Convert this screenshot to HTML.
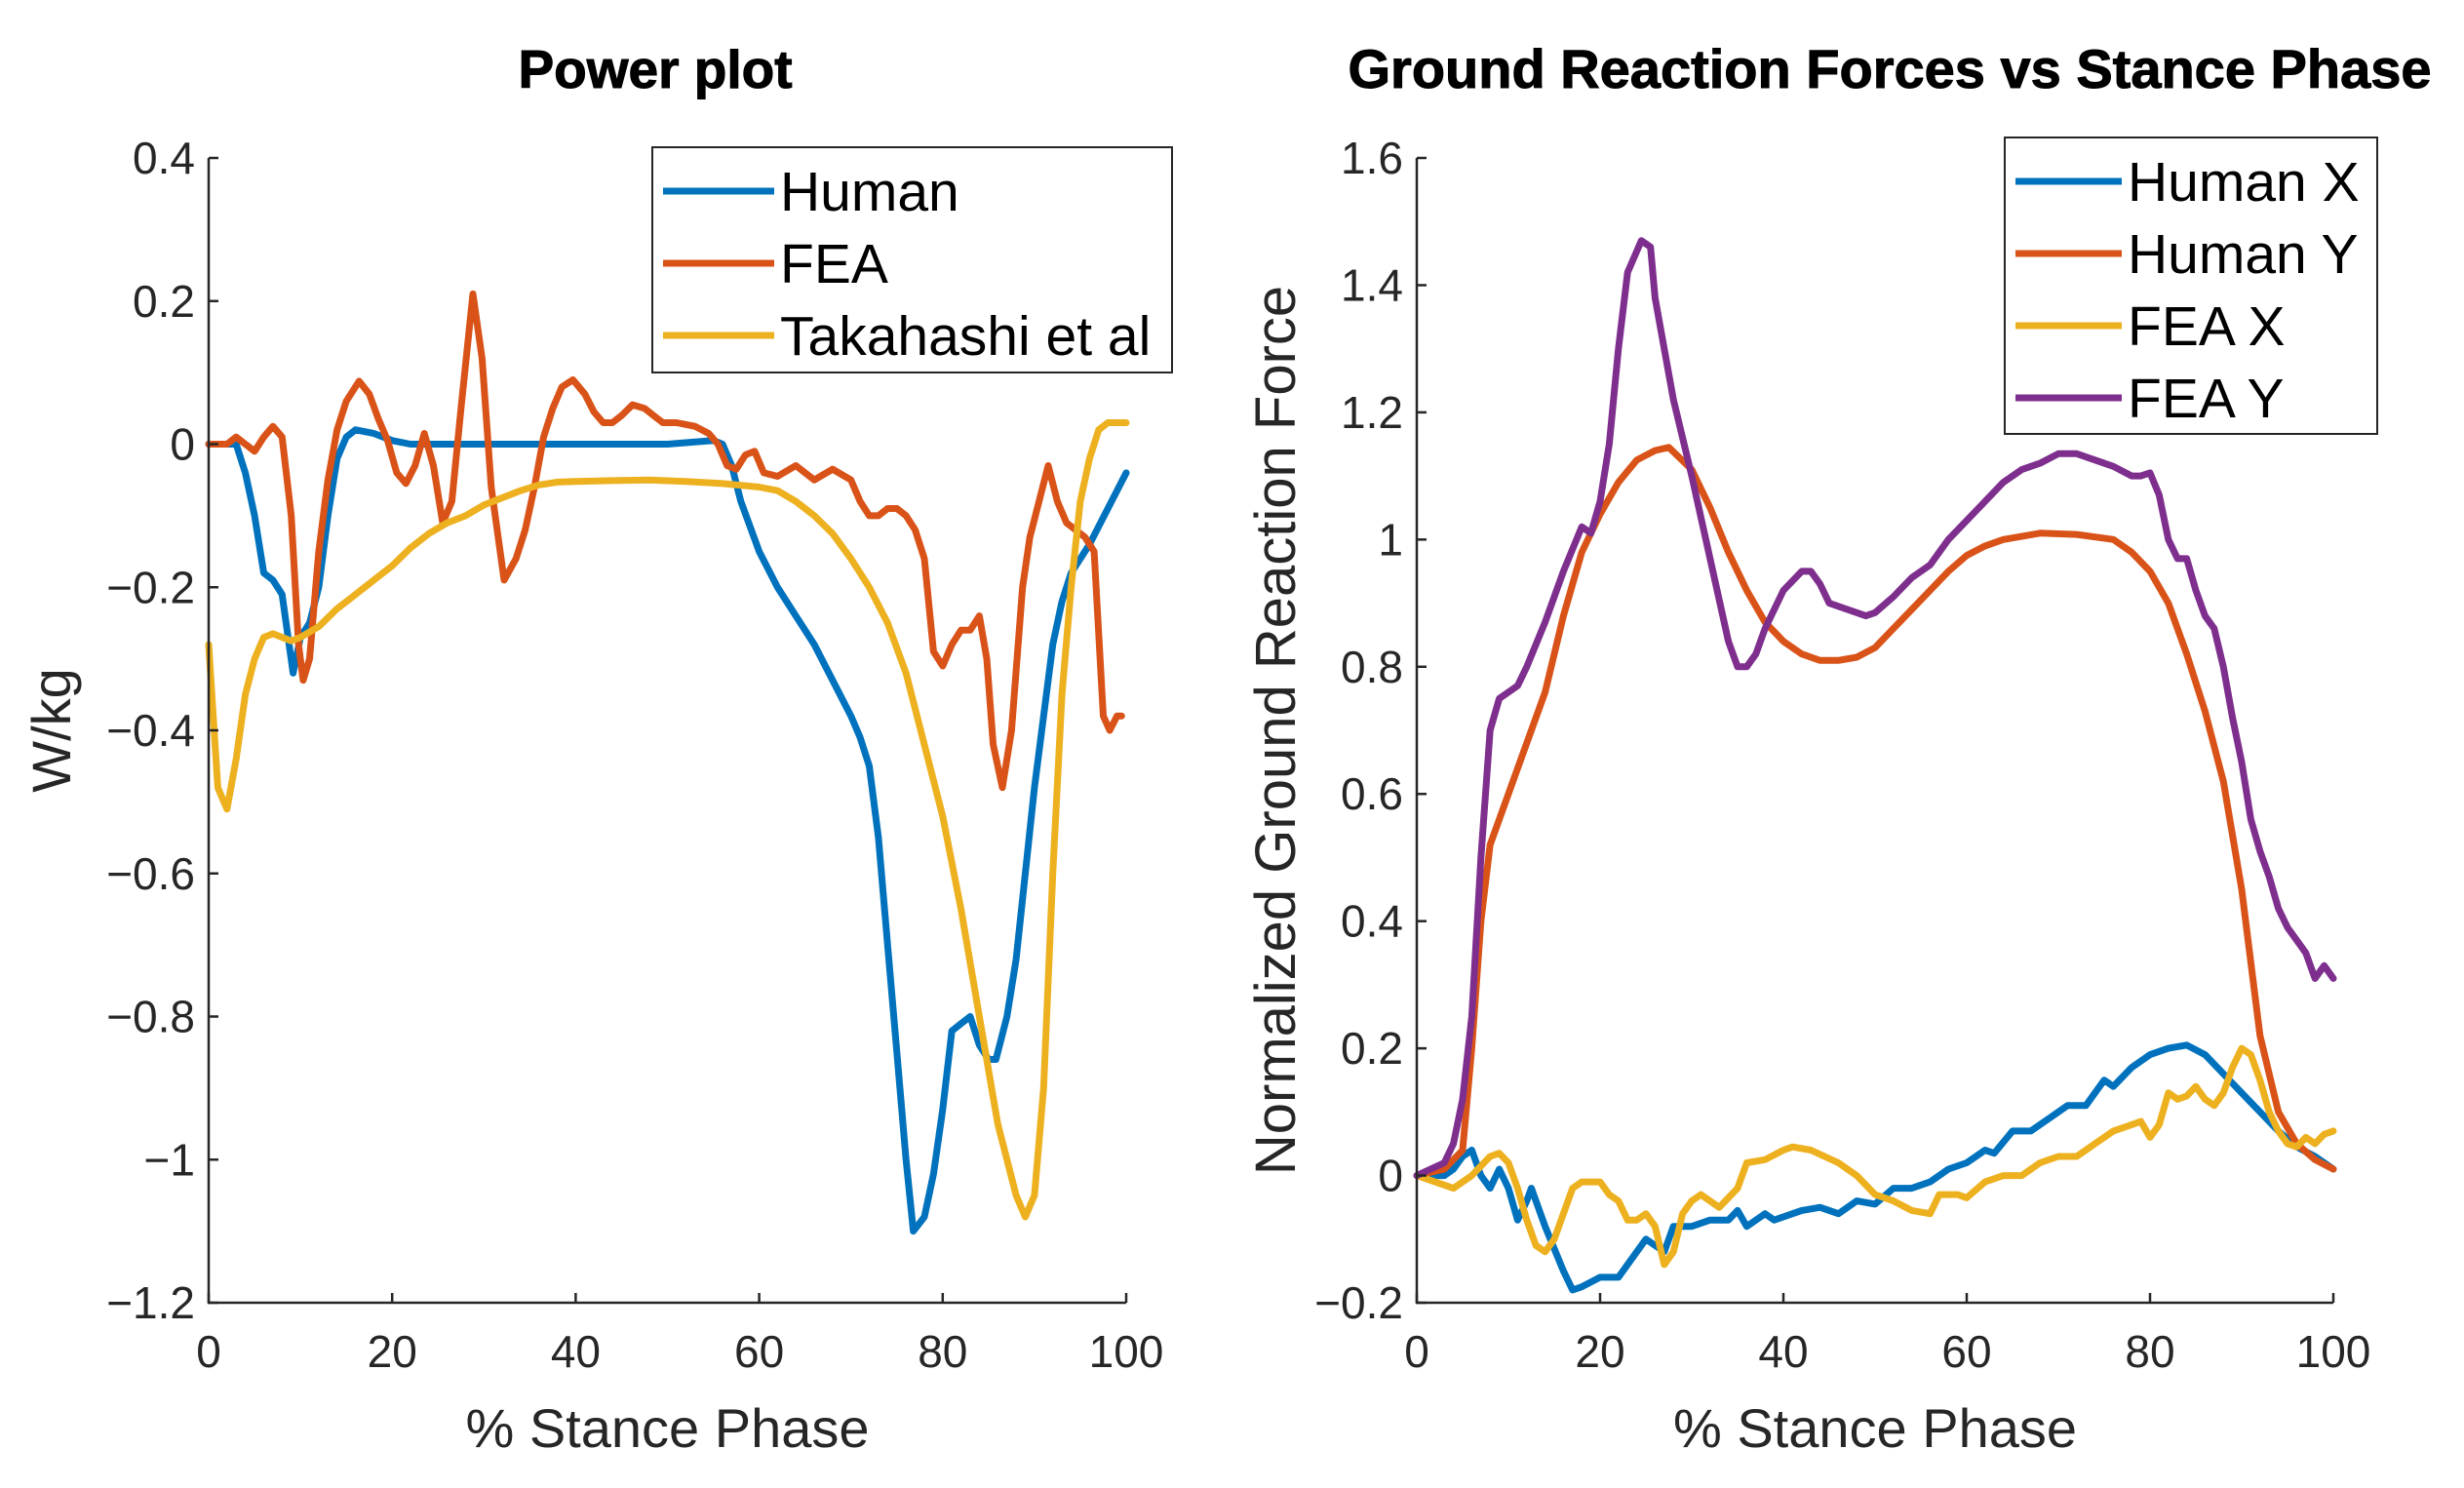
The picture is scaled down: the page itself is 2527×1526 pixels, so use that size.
<!DOCTYPE html>
<html><head><meta charset="utf-8">
<style>
html,body{margin:0;padding:0;background:#fff;}
svg{display:block;font-family:"Liberation Sans",Arial,sans-serif;}
</style></head>
<body>
<svg id="chart" width="2527" height="1526" viewBox="0 0 2527 1526" xmlns="http://www.w3.org/2000/svg">
<rect x="0" y="0" width="2527" height="1526" fill="#fff"/>
<g id="left"></g>
<g id="right"></g>
</svg>
<script>
// ---------- Power plot data ----------
const humanPX = [0,2,3,4,5,6,7,8,9.2,10,11,12,13,14,15,16,18,20,22,30,40,50,55,56,57,58,60,62,64,66,68,70,71,72,73,74,75,76,76.8,78,79,80,81,82,83,84,85,85.8,87,88,89,90,91,92,93,94,96,98,100];
const humanPY = [0,0,0,-0.04,-0.1,-0.18,-0.19,-0.21,-0.32,-0.27,-0.25,-0.2,-0.1,-0.02,0.01,0.02,0.015,0.005,0,0,0,0,0.005,0,-0.03,-0.08,-0.15,-0.2,-0.24,-0.28,-0.33,-0.38,-0.41,-0.45,-0.55,-0.7,-0.85,-1.0,-1.1,-1.08,-1.02,-0.93,-0.82,-0.81,-0.8,-0.84,-0.86,-0.86,-0.8,-0.72,-0.6,-0.48,-0.38,-0.28,-0.22,-0.18,-0.14,-0.09,-0.04];
const feaPX = [0,1,2,3,4,5,6,7,8,9,9.8,10.3,11,12,13,14,15,16.4,17.5,18.5,19.5,20.5,21.5,22.5,23.5,24.5,25.5,26.5,27.5,28.8,29.8,30.8,32.2,33.5,34.5,35.5,36.5,37.5,38.5,39.7,41,42,43,44,45,46.2,47.5,48.5,49.5,51,53,54.5,55.5,56.5,57.5,58.5,59.5,60.5,62,64,66,68,70,71,72,73,74,75,76,77,78,79,80,81,82,83,84,84.8,85.5,86.5,87.5,88.7,89.5,90.5,91.5,92.5,93.5,94.5,95.5,96.5,97.5,98.2,99,99.5,100];
const feaPY = [0,0,0,0.01,0,-0.01,0.01,0.025,0.01,-0.1,-0.28,-0.33,-0.3,-0.15,-0.05,0.02,0.06,0.088,0.07,0.035,0.005,-0.04,-0.055,-0.03,0.015,-0.03,-0.11,-0.08,0.05,0.21,0.12,-0.06,-0.19,-0.16,-0.12,-0.06,0.01,0.05,0.08,0.09,0.07,0.045,0.03,0.03,0.04,0.055,0.05,0.04,0.03,0.03,0.025,0.015,0,-0.03,-0.035,-0.015,-0.01,-0.04,-0.045,-0.03,-0.05,-0.035,-0.05,-0.08,-0.1,-0.1,-0.09,-0.09,-0.1,-0.12,-0.16,-0.29,-0.31,-0.28,-0.26,-0.26,-0.24,-0.3,-0.42,-0.48,-0.4,-0.2,-0.13,-0.08,-0.03,-0.08,-0.11,-0.12,-0.13,-0.15,-0.38,-0.4,-0.38,-0.38];
const takPX = [0,1,2,3,4,5,6,7,8,9,10,12,14,16,18,20,22,24,26,28,30,32,34,36,38,40,44,48,52,56,60,62,64,66,68,70,72,74,76,78,80,82,84,86,88,89,90,91,92,93,94,95,96,97,98,100];
const takPY = [-0.28,-0.48,-0.51,-0.44,-0.35,-0.3,-0.27,-0.265,-0.27,-0.275,-0.27,-0.255,-0.23,-0.21,-0.19,-0.17,-0.145,-0.125,-0.11,-0.1,-0.085,-0.075,-0.065,-0.057,-0.053,-0.052,-0.051,-0.05,-0.052,-0.055,-0.06,-0.065,-0.08,-0.1,-0.125,-0.16,-0.2,-0.25,-0.32,-0.42,-0.52,-0.65,-0.8,-0.95,-1.05,-1.08,-1.05,-0.9,-0.6,-0.35,-0.2,-0.08,-0.02,0.02,0.03,0.03];
const leftYTicks = [0.4,0.2,0,-0.2,-0.4,-0.6,-0.8,-1,-1.2];
const leftYLabels = ["0.4","0.2","0","\u22120.2","\u22120.4","\u22120.6","\u22120.8","\u22121","\u22121.2"];
const xTicks = [0,20,40,60,80,100];
const leftLegend = ["Human","FEA","Takahashi et al"];

// ---------- GRF data ----------
const hxX = [0,2,3,4,5,6,7,8,9,10,11,12,12.5,14,16,17,18,20,22,24,25,26,27,28,30,32,34,35,36,38,39,42,44,46,48,50,52,54,56,58,60,62,63,65,67,69,71,73,75,76,78,80,82,84,86,88,90,92,94,96,98,100];
const hxY = [0,0,0,0.01,0.03,0.04,0,-0.02,0.01,-0.02,-0.07,-0.04,-0.02,-0.08,-0.15,-0.18,-0.175,-0.16,-0.16,-0.12,-0.1,-0.11,-0.12,-0.08,-0.08,-0.07,-0.07,-0.055,-0.08,-0.06,-0.07,-0.055,-0.05,-0.06,-0.04,-0.045,-0.02,-0.02,-0.01,0.01,0.02,0.04,0.035,0.07,0.07,0.09,0.11,0.11,0.15,0.14,0.17,0.19,0.2,0.205,0.19,0.16,0.13,0.1,0.07,0.045,0.03,0.01];
const hyX = [0,3,5,6,7,8,9,10,12,14,16,18,20,22,24,26,27.5,30,32,34,36,38,40,42,44,46,48,50,52,54,56,58,60,62,64,66,68,72,76,78,80,82,84,86,88,90,92,94,96,98,100];
const hyY = [0,0.01,0.04,0.2,0.4,0.52,0.56,0.6,0.68,0.76,0.88,0.98,1.04,1.09,1.125,1.14,1.145,1.11,1.05,0.98,0.92,0.87,0.84,0.82,0.81,0.81,0.815,0.83,0.86,0.89,0.92,0.95,0.975,0.99,1.0,1.005,1.01,1.008,1.0,0.98,0.95,0.9,0.82,0.73,0.62,0.45,0.22,0.1,0.05,0.025,0.01];
const fxX = [0,2,4,6,8,9,10,11,12,13,14,15,16,17,18,20,21,22,23,24,25,26,27,28,29,30,31,33,35,36,38,40,41,43,46,48,50,52,54,56,57,59,60,62,64,66,68,70,72,74,76,78,79,80,81,82,83,84,85,86,87,88,89,90,91,92,93,94,95,96,97,98,99,100];
const fxY = [0,-0.01,-0.02,0,0.03,0.035,0.02,-0.02,-0.07,-0.11,-0.12,-0.1,-0.06,-0.02,-0.01,-0.01,-0.03,-0.04,-0.07,-0.07,-0.06,-0.08,-0.14,-0.12,-0.06,-0.04,-0.03,-0.05,-0.02,0.02,0.025,0.04,0.045,0.04,0.02,0,-0.03,-0.04,-0.055,-0.06,-0.03,-0.03,-0.035,-0.01,0,0,0.02,0.03,0.03,0.05,0.07,0.08,0.085,0.06,0.08,0.13,0.12,0.125,0.14,0.12,0.11,0.13,0.17,0.2,0.19,0.15,0.1,0.07,0.05,0.045,0.06,0.05,0.065,0.07];
const fyX = [0,3,4,5,6,7,8,9,10,11,12,14,16,18,19,20,21,22,23,24.5,25.5,26,27,28,30,32,34,35,36,37,38,40,42,43,44,45,47,49,50,52,54,56,58,60,62,64,66,68,70,72,74,76,78,79,80,81,82,83,84,85,86,87,88,89,90,91,92,93,94,95,96,97,98,99,100];
const fyY = [0,0.02,0.05,0.12,0.25,0.5,0.7,0.75,0.76,0.77,0.8,0.87,0.95,1.02,1.01,1.06,1.15,1.3,1.42,1.47,1.46,1.38,1.3,1.22,1.1,0.97,0.84,0.8,0.8,0.82,0.86,0.92,0.95,0.95,0.93,0.9,0.89,0.88,0.885,0.91,0.94,0.96,1.0,1.03,1.06,1.09,1.11,1.12,1.135,1.135,1.125,1.115,1.1,1.1,1.105,1.07,1.0,0.97,0.97,0.92,0.88,0.86,0.8,0.72,0.65,0.56,0.51,0.47,0.42,0.39,0.37,0.35,0.31,0.33,0.31];
const rightYTicks = [1.6,1.4,1.2,1,0.8,0.6,0.4,0.2,0,-0.2];
const rightYLabels = ["1.6","1.4","1.2","1","0.8","0.6","0.4","0.2","0","\u22120.2"];
const rightLegend = ["Human X","Human Y","FEA X","FEA Y"];

const C = ["#0072BD","#D95319","#EDB120","#7E2F8E"];
const NS = "http://www.w3.org/2000/svg";
function mk(parent, tag, attrs){const e=document.createElementNS(NS,tag);for(const k in attrs)e.setAttribute(k,attrs[k]);parent.appendChild(e);return e;}

function drawPanel(g, cfg){
  const sx = v => cfg.x0 + (v-0)/(100-0)*(cfg.x1-cfg.x0);
  const sy = v => cfg.yB + (v-cfg.ymin)/(cfg.ymax-cfg.ymin)*(cfg.yT-cfg.yB);
  cfg.series.forEach((s,i)=>{
    const d=s.x.map((v,j)=>(j?'L':'M')+sx(v).toFixed(1)+','+sy(s.y[j]).toFixed(1)).join('');
    const p=mk(g,'path',{d:d,fill:'none',stroke:s.c,'stroke-width':7,'stroke-linejoin':'round','stroke-linecap':'round'});
    
    
  });
  const ax = mk(g,'path',{d:`M${cfg.x0},${cfg.yT}V${cfg.yB}H${cfg.x1}`,fill:'none',stroke:'#262626','stroke-width':2.5});
  
  
  cfg.yticks.forEach((t,i)=>{
    const y=sy(t);
    const tk=mk(g,'line',{x1:cfg.x0,x2:cfg.x0+10,y1:y,y2:y,stroke:'#262626','stroke-width':2.5});
    
    
    const tl=mk(g,'text',{x:cfg.x0-14,y:y+16,'text-anchor':'end','font-size':46,fill:'#262626'});
    tl.textContent=cfg.ylabels[i];
    
    
  });
  xTicks.forEach(t=>{
    const x=sx(t);
    const tk=mk(g,'line',{x1:x,x2:x,y1:cfg.yB,y2:cfg.yB-10,stroke:'#262626','stroke-width':2.5});
    
    
    const tl=mk(g,'text',{x:x,y:cfg.yB+66,'text-anchor':'middle','font-size':46,fill:'#262626'});
    tl.textContent=String(t);
    
    
  });
  const ti=mk(g,'text',{x:cfg.tx,y:90,'text-anchor':'middle','font-size':cfg.tfs,'font-weight':'bold',fill:'#000',stroke:'#000','stroke-width':1});
  ti.textContent=cfg.title;
  
  
  const xl=mk(g,'text',{x:(cfg.x0+cfg.x1)/2,y:1484,'text-anchor':'middle','font-size':56,fill:'#262626'});
  xl.textContent='% Stance Phase';
  
  
  const yl=mk(g,'text',{x:0,y:0,'text-anchor':'middle','font-size':cfg.yfs,fill:'#262626',transform:`translate(${cfg.ylx},${(cfg.yT+cfg.yB)/2}) rotate(-90)`});
  yl.textContent=cfg.ytitle;
  
  
  const L=cfg.leg;
  const lb=mk(g,'rect',{x:L.x,y:L.y,width:L.w,height:L.h,fill:'#fff',stroke:'#262626','stroke-width':2});
  
  
  cfg.legend.forEach((name,i)=>{
    const y=L.y0+i*L.dy;
    const ln=mk(g,'line',{x1:L.lx0,x2:L.lx1,y1:y,y2:y,stroke:cfg.series[i].c,'stroke-width':7});
    
    
    const tx=mk(g,'text',{x:L.lx1+6,y:y+20,'font-size':57,fill:'#000'});
    tx.textContent=name;
    
    
  });
}

drawPanel(document.getElementById('left'),{
  x0:214,x1:1155,yT:162,yB:1336,ymin:-1.2,ymax:0.4,
  yticks:leftYTicks,ylabels:leftYLabels,title:'Power plot',tx:672,tfs:55,ytitle:'W/kg',ylx:72,yfs:56,
  series:[{x:humanPX,y:humanPY,c:C[0],n:'human'},{x:feaPX,y:feaPY,c:C[1],n:'fea'},{x:takPX,y:takPY,c:C[2],n:'takahashi'}],
  legend:leftLegend,
  leg:{x:669,y:151,w:533,h:231,y0:196,dy:74,lx0:680,lx1:794}
});
drawPanel(document.getElementById('right'),{
  x0:1453,x1:2393,yT:162,yB:1336,ymin:-0.2,ymax:1.6,
  yticks:rightYTicks,ylabels:rightYLabels,title:'Ground Reaction Forces vs Stance Phase',tx:1938,tfs:56,ytitle:'Normalized Ground Reaction Force',ylx:1328,yfs:58,
  series:[{x:hxX,y:hxY,c:C[0],n:'human-x'},{x:hyX,y:hyY,c:C[1],n:'human-y'},{x:fxX,y:fxY,c:C[2],n:'fea-x'},{x:fyX,y:fyY,c:C[3],n:'fea-y'}],
  legend:rightLegend,
  leg:{x:2056,y:141,w:382,h:304,y0:186,dy:74,lx0:2067,lx1:2176}
});
</script>
</body></html>
